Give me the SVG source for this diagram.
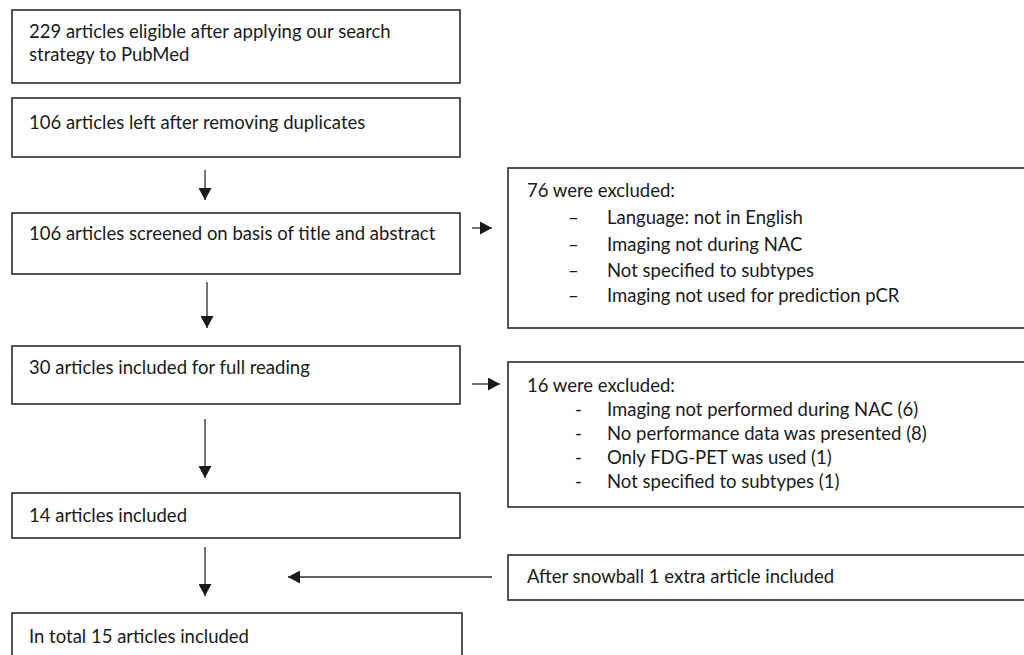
<svg xmlns="http://www.w3.org/2000/svg" width="1024" height="655" viewBox="0 0 1024 655">
<style>
.b{fill:#fff;stroke:#2b2b2b;stroke-width:1.6}
.t{font-family:Lato,"Open Sans","Liberation Sans",sans-serif;font-size:18.5px;fill:#1a1a1a}
.c{stroke:#2b2b2b;stroke-width:1.3;fill:none}
</style>
<defs>
<marker id="ah" viewBox="0 0 12 13" refX="12" refY="6.5" markerWidth="12" markerHeight="13" markerUnits="userSpaceOnUse" orient="auto">
<path d="M0,0 L12,6.5 L0,13 z" fill="#1a1a1a"/>
</marker>
</defs>
<rect width="1024" height="655" fill="#fff"/>
<g id="connectors">
<line class="c" x1="205" y1="170" x2="205" y2="200" marker-end="url(#ah)"/>
<line class="c" x1="207" y1="282" x2="207" y2="328" marker-end="url(#ah)"/>
<line class="c" x1="205" y1="419" x2="205" y2="478" marker-end="url(#ah)"/>
<line class="c" x1="205" y1="547" x2="205" y2="596" marker-end="url(#ah)"/>
<line class="c" x1="472" y1="228" x2="492" y2="228" marker-end="url(#ah)"/>
<line class="c" x1="472" y1="384" x2="500" y2="384" marker-end="url(#ah)"/>
<line class="c" x1="492" y1="577" x2="288" y2="577" marker-end="url(#ah)"/>
</g>
<g id="n1"><rect class="b" x="12" y="10" width="448" height="73"/>
<text class="t" x="29" y="38">229 articles eligible after applying our search</text>
<text class="t" x="29" y="61">strategy to PubMed</text></g>
<g id="n2"><rect class="b" x="12" y="98" width="448" height="59"/>
<text class="t" x="29" y="129">106 articles left after removing duplicates</text></g>
<g id="n3"><rect class="b" x="12" y="213" width="448" height="61"/>
<text class="t" x="29" y="240">106 articles screened on basis of title and abstract</text></g>
<g id="n4"><rect class="b" x="12" y="346" width="448" height="58"/>
<text class="t" x="29" y="374">30 articles included for full reading</text></g>
<g id="n5"><rect class="b" x="12" y="493" width="448" height="45"/>
<text class="t" x="29" y="522">14 articles included</text></g>
<g id="n6"><rect class="b" x="12" y="613" width="450" height="50"/>
<text class="t" x="29" y="643">In total 15 articles included</text></g>
<g id="ex1"><rect class="b" x="508" y="168" width="522" height="160"/>
<text class="t" x="527" y="197">76 were excluded:</text>
<text class="t" x="568" y="224">–</text><text class="t" x="607" y="224">Language: not in English</text>
<text class="t" x="568" y="251">–</text><text class="t" x="607" y="251">Imaging not during NAC</text>
<text class="t" x="568" y="277">–</text><text class="t" x="607" y="277">Not specified to subtypes</text>
<text class="t" x="568" y="302">–</text><text class="t" x="607" y="302">Imaging not used for prediction pCR</text></g>
<g id="ex2"><rect class="b" x="508" y="362" width="522" height="145"/>
<text class="t" x="527" y="392">16 were excluded:</text>
<text class="t" x="575" y="416">-</text><text class="t" x="607" y="416">Imaging not performed during NAC (6)</text>
<text class="t" x="575" y="440">-</text><text class="t" x="607" y="440">No performance data was presented (8)</text>
<text class="t" x="575" y="464">-</text><text class="t" x="607" y="464">Only FDG-PET was used (1)</text>
<text class="t" x="575" y="488">-</text><text class="t" x="607" y="488">Not specified to subtypes (1)</text></g>
<g id="sb"><rect class="b" x="508" y="555" width="522" height="45"/>
<text class="t" x="527" y="583">After snowball 1 extra article included</text></g>
</svg>
